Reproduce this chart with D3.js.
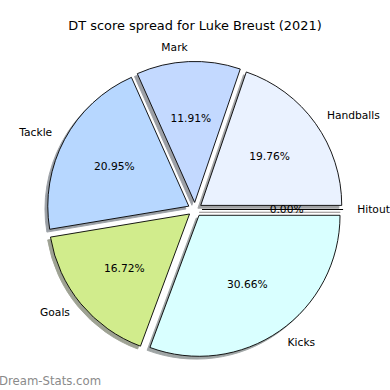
<!DOCTYPE html>
<html lang="en">
<head>
	<meta charset="UTF-8">
	<title>DT score spread</title>
	<style>
		body { margin: 0; background: #fff; }
		text { font-family: "DejaVu Sans", sans-serif; fill: #000; }
		.wedge { stroke: #000; stroke-width: 0.9px; stroke-linejoin: miter; }
		.label { font-size: 10.7px; }
		.pct { font-size: 10.7px; }
		.title { font-size: 12.9px; }
		.mark { font-size: 11.7px; fill: #8a8a8a; }
	</style>
	<script src="https://cdn.jsdelivr.net/npm/d3@7"></script>
</head>
<body>
	<div class="wrap"></div>
	<script>
	  // slices in drawing order (counter-clockwise from 3 o'clock)
	  var categories = ["Handballs", "Mark", "Tackle", "Goals", "Kicks", "Hitout"];
	  var shares = [19.76, 11.91, 20.95, 16.72, 30.66, 0.00];
	  var colours = ["#eaf2ff", "#c3d9ff", "#b7d7ff", "#d1ec8c", "#d9ffff", "#ffe0e0"];

	  var width = 390, height = 390;
	  var cx = 195, cy = 209.5;
	  var explode = 0.05, labelDist = 1.1, pctDist = 0.6, shadowOff = 0.02;

	  // data units -> pixels (pie radius is 1)
	  var r = d3.scaleLinear().domain([0, 1]).range([0, 141]);

	  var data = categories.map(function(c, i) {
		  return {name: c, value: shares[i], colour: colours[i]};
	  });

	  var pie = d3.pie()
		  .sort(null)
		  .value(function(d) { return d.value; })
		  .startAngle(Math.PI / 2)
		  .endAngle(Math.PI / 2 - 2 * Math.PI);

	  var arc = d3.arc().innerRadius(0).outerRadius(r(1));

	  var svg = d3.select(".wrap").append("svg")
		  .attr("width", width)
		  .attr("height", height);

	  svg.append("rect").attr("width", width).attr("height", height).attr("fill", "#fff");

	  svg.append("text")
		  .attr("class", "title")
		  .attr("x", cx)
		  .attr("y", 30)
		  .attr("text-anchor", "middle")
		  .text("DT score spread for Luke Breust (2021)");

	  var arcs = pie(data);
	  function mid(d) { return (d.startAngle + d.endAngle) / 2; }
	  function dir(d) { var a = mid(d); return [Math.sin(a), -Math.cos(a)]; }
	  function dark(d) {
		  var c = d3.rgb(d.data.colour);
		  return d3.rgb(c.r * 0.3, c.g * 0.3, c.b * 0.3);
	  }

	  var g = svg.append("g").attr("transform", "translate(" + cx + "," + cy + ")");

	  // shadows first
	  g.selectAll("path.shadow").data(arcs).enter().append("path")
		  .attr("class", "shadow")
		  .attr("transform", function(d) {
			  var v = dir(d);
			  return "translate(" + (r(explode) * v[0] - r(shadowOff)) + "," + (r(explode) * v[1] + r(shadowOff)) + ")";
		  })
		  .attr("d", arc)
		  .attr("fill", dark)
		  .attr("stroke", dark)
		  .attr("stroke-width", 0.9)
		  .attr("opacity", 0.5);

	  g.selectAll("path.wedge").data(arcs).enter().append("path")
		  .attr("class", "wedge")
		  .attr("transform", function(d) {
			  var v = dir(d);
			  return "translate(" + r(explode) * v[0] + "," + r(explode) * v[1] + ")";
		  })
		  .attr("d", arc)
		  .attr("fill", function(d) { return d.data.colour; });

	  // category labels
	  g.selectAll("text.label").data(arcs).enter().append("text")
		  .attr("class", "label")
		  .attr("x", function(d) { return r(explode + labelDist) * dir(d)[0]; })
		  .attr("y", function(d) { return r(explode + labelDist) * dir(d)[1]; })
		  .attr("dy", "0.35em")
		  .attr("text-anchor", function(d) { return dir(d)[0] > 0 ? "start" : "end"; })
		  .text(function(d) { return d.data.name; });

	  // percentages
	  g.selectAll("text.pct").data(arcs).enter().append("text")
		  .attr("class", "pct")
		  .attr("x", function(d) { return r(explode + pctDist) * dir(d)[0]; })
		  .attr("y", function(d) { return r(explode + pctDist) * dir(d)[1]; })
		  .attr("dy", "0.35em")
		  .attr("text-anchor", "middle")
		  .text(function(d) { return d.data.value.toFixed(2) + "%"; });

	  svg.append("text")
		  .attr("class", "mark")
		  .attr("x", -1)
		  .attr("y", 385)
		  .text("Dream-Stats.com");
	</script>
</body>
</html>
